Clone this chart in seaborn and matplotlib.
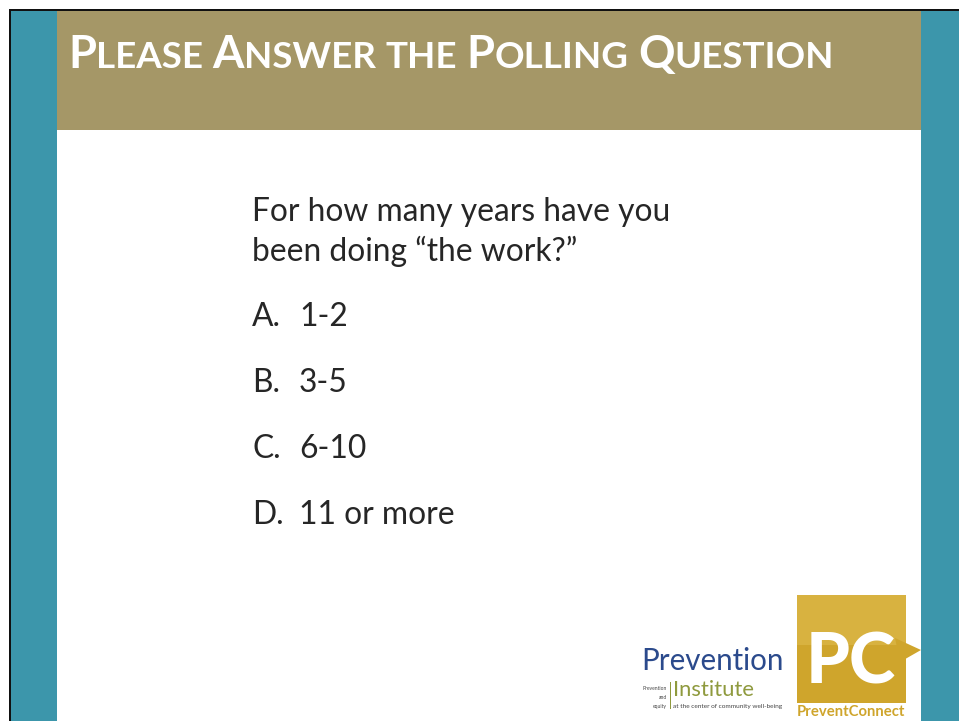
import matplotlib
matplotlib.use("Agg")
import matplotlib.pyplot as plt
import seaborn as sns
from matplotlib.patches import Rectangle, Polygon

# ---- content ----
title_words = ["Please", "Answer", "the", "Polling", "Question"]
question_lines = ["For how many years have you", "been doing \u201cthe work?\u201d"]
option_letters = ["A.", "B.", "C.", "D."]
option_labels = ["1-2", "3-5", "6-10", "11 or more"]
logo1_main = "Prevention"
logo1_sub = "Institute"
logo1_side = ["Prevention", "and", "equity"]
logo1_tag = "at the center of community well-being"
logo2_mark = "PC"
logo2_text = "PreventConnect"

TEAL = "#3c96ab"
OLIVE = "#a59767"
TEXT = "#262626"
GOLD = "#cfa52c"

sns.set_theme(style="white")
plt.rcParams["font.family"] = ["Lato", "DejaVu Sans"]

W, H = 959, 721
fig = plt.figure(figsize=(W / 100, H / 100), dpi=100)
ax = fig.add_axes([0, 0, 1, 1])
ax.set_xlim(0, W)
ax.set_ylim(H, 0)
ax.axis("off")
sns.despine(ax=ax, left=True, bottom=True)
renderer = fig.canvas.get_renderer()


def width_px(t):
    return t.get_window_extent(renderer=renderer).width


def fit_text(x, y, s, target_w, size0=20, **kw):
    t = ax.text(x, y, s, fontsize=size0, **kw)
    w = width_px(t)
    t.set_fontsize(size0 * target_w / w)
    return t


# ---- frame and bands ----
ax.add_patch(Rectangle((9, 9), W, H, facecolor="#111111", edgecolor="none"))
ax.add_patch(Rectangle((11, 11), W, H, facecolor="white", edgecolor="none"))
ax.add_patch(Rectangle((11, 11), 46, H, facecolor=TEAL, edgecolor="none"))
ax.add_patch(Rectangle((921, 11), 40, H, facecolor=TEAL, edgecolor="none"))
ax.add_patch(Rectangle((57, 11), 864, 119, facecolor=OLIVE, edgecolor="none"))

# ---- title in small caps ----
big, small = 35.0, 28.5
base_y = 68
tmp = []
for wi, word in enumerate(title_words):
    if word[0].isupper():
        tmp.append((word[0], big, None))
        tmp.append((word[1:].upper(), small, None))
    else:
        tmp.append((word.upper(), small, None))
    if wi < len(title_words) - 1:
        tmp.append((" ", small, "space"))

meas = []
for s, fs, kind in tmp:
    if kind == "space":
        t1 = ax.text(0, 0, "N N", fontsize=fs, fontweight="bold")
        t2 = ax.text(0, 0, "NN", fontsize=fs, fontweight="bold")
        w = width_px(t1) - width_px(t2)
        t1.remove(); t2.remove()
    else:
        t = ax.text(0, 0, s, fontsize=fs, fontweight="bold")
        w = width_px(t)
        t.remove()
    meas.append(w)
scale = (835 - 68) / sum(meas)
x = 68
for (s, fs, kind), w in zip(tmp, meas):
    if kind != "space":
        ax.text(x, base_y, s, fontsize=fs * scale, fontweight="bold",
                color="white", va="baseline", ha="left")
    x += w * scale

# ---- question ----
t0 = fit_text(252, 221, question_lines[0], 418, va="baseline", color=TEXT)
body_fs = t0.get_fontsize()
ax.text(252, 261, question_lines[1], fontsize=body_fs, va="baseline", color=TEXT)
opt_y = [326, 392, 458, 524]
for L, lab, yy in zip(option_letters, option_labels, opt_y):
    ax.text(252, yy, L, fontsize=body_fs, va="baseline", color=TEXT)
    ax.text(299, yy, lab, fontsize=body_fs, va="baseline", color=TEXT)

# ---- Prevention Institute logo ----
fit_text(641, 670, logo1_main, 143, va="baseline", color="#2b4a8c")
fit_text(673, 696, logo1_sub, 81, va="baseline", color="#8f9a3e")
ax.add_patch(Rectangle((669.5, 682), 1.6, 27, facecolor="#8f9a3e", edgecolor="none"))
for s, yy in zip(logo1_side, [690, 699, 708]):
    ax.text(667, yy, s, fontsize=3.6, ha="right", va="baseline", color="#444444")
fit_text(673, 708, logo1_tag, 107, size0=4, va="baseline", color="#444444")

# ---- PreventConnect logo ----
ax.add_patch(Rectangle((797, 595), 109, 108, facecolor=GOLD, edgecolor="none"))
ax.add_patch(Rectangle((797, 595), 109, 50, facecolor="#d8b240", edgecolor="none"))
ax.add_patch(Polygon([[895, 638], [921, 650], [900, 662]], closed=True,
                     facecolor=GOLD, edgecolor="none"))
fit_text(806, 684, logo2_mark, 90, size0=60, fontweight="black",
         color="white", va="baseline")
fit_text(797, 716, logo2_text, 108, va="baseline", color=GOLD, fontweight="bold")

fig.savefig("out.png", dpi=100)
